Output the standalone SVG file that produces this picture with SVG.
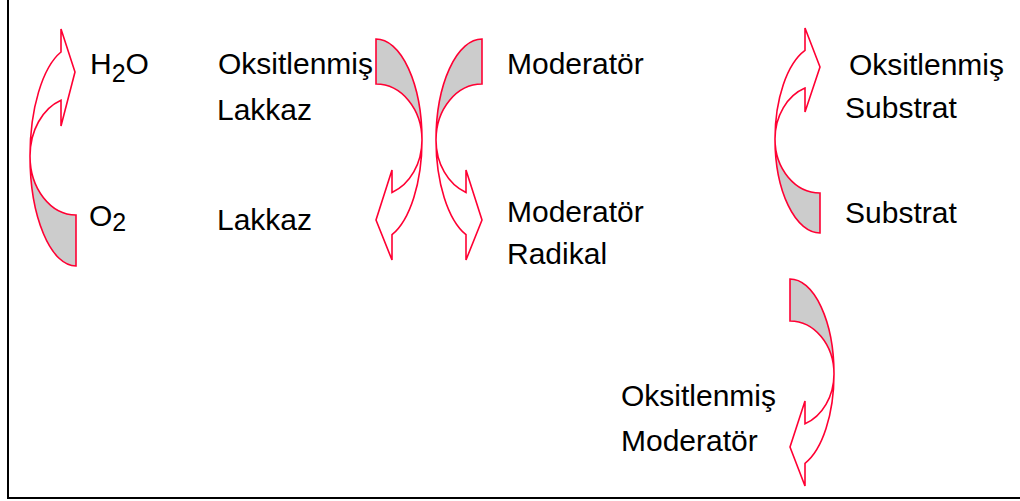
<svg xmlns="http://www.w3.org/2000/svg" width="1020" height="501" viewBox="0 0 1020 501">
<style>
.t{font-family:"Liberation Sans",Arial,sans-serif;font-size:30px;fill:#000}
.g{fill:#CCCCCC;stroke:#FF0033;stroke-width:1.6;stroke-linejoin:miter}
.w{fill:#FFFFFF;stroke:#FF0033;stroke-width:1.6;stroke-linejoin:miter}
.f{stroke:#000;stroke-width:2;fill:none}
</style>
<rect width="1020" height="501" fill="#fff"/>
<g id="frame">
<path class="f" d="M8,0 V498 H1020"/>
</g>
<g id="connectors">
<g id="arrow-o2-h2o">
<path class="g" d="M30,156 A46,110 0 0 0 76,266 L76,215 A46,59 0 0 1 30,156 Z"/>
<path class="w" d="M30,156 A46,110 0 0 1 61,52 L61,29 L75,72 L61,126 L61,100.2 A46,59 0 0 0 30,156 Z"/>
</g>
<g id="arrow-lakkaz">
<path class="g" d="M422,140 A46,101 0 0 0 376,39 L376,84 A46,56 0 0 1 422,140 Z"/>
<path class="w" d="M422,140 A46,101 0 0 1 392,234.7 L392,260 L376,220 L392,170 L392,192.5 A46,56 0 0 0 422,140 Z"/>
</g>
<g id="arrow-moderator">
<path class="g" d="M436,140 A46,101 0 0 1 482,39 L482,84 A46,56 0 0 0 436,140 Z"/>
<path class="w" d="M436,140 A46,101 0 0 0 466,234.7 L466,260 L482,220 L466,170 L466,192.5 A46,56 0 0 1 436,140 Z"/>
</g>
<g id="arrow-substrat">
<path class="g" d="M775,139 A45,94 0 0 0 820,233 L820,193 A45,54 0 0 1 775,139 Z"/>
<path class="w" d="M775,139 A45,94 0 0 1 805,50.4 L805,28 L820,67 L805,112 L805,88.1 A45,54 0 0 0 775,139 Z"/>
</g>
<g id="arrow-oks-moderator">
<path class="g" d="M834,374 A44,95 0 0 0 790,279 L790,321 A44,53 0 0 1 834,374 Z"/>
<path class="w" d="M834,374 A44,95 0 0 1 805,463.3 L805,486 L790,447 L805,401 L805,423.8 A44,53 0 0 0 834,374 Z"/>
</g>
</g>
<g id="node-h2o"><text class="t" x="90" y="74">H<tspan font-size="25" dy="8">2</tspan><tspan dy="-8">O</tspan></text></g>
<g id="node-o2"><text class="t" x="89" y="226">O<tspan font-size="25" dy="5">2</tspan></text></g>
<g id="node-oks-lakkaz"><text class="t" x="218" y="74">Oksitlenmiş</text><text class="t" x="217" y="120">Lakkaz</text></g>
<g id="node-lakkaz"><text class="t" x="217" y="230">Lakkaz</text></g>
<g id="node-moderator"><text class="t" x="507" y="74">Moderatör</text></g>
<g id="node-mod-radikal"><text class="t" x="507" y="222">Moderatör</text><text class="t" x="507" y="264">Radikal</text></g>
<g id="node-oks-substrat"><text class="t" x="849" y="75">Oksitlenmiş</text><text class="t" x="845" y="118">Substrat</text></g>
<g id="node-substrat"><text class="t" x="845" y="223">Substrat</text></g>
<g id="node-oks-moderator"><text class="t" x="621" y="406">Oksitlenmiş</text><text class="t" x="621" y="451">Moderatör</text></g>
</svg>
